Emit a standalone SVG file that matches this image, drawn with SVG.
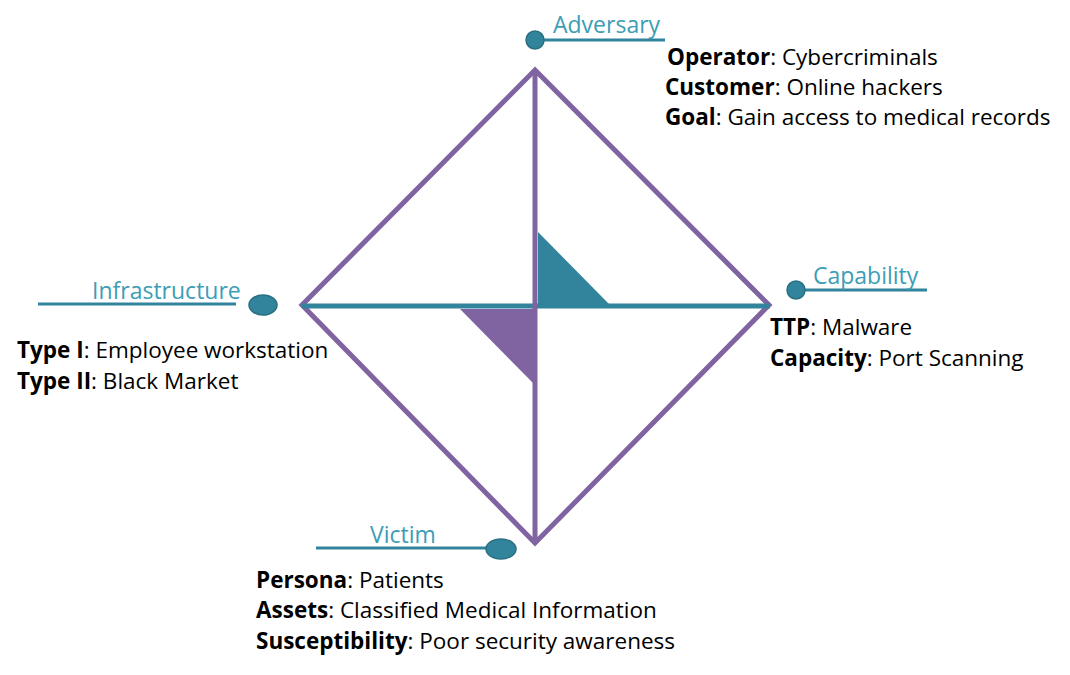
<svg xmlns="http://www.w3.org/2000/svg" width="1070" height="675" viewBox="0 0 1070 675">
  <style>
    .edge { stroke: #8064A2; stroke-width: 5; fill: none; stroke-linejoin: miter; }
    .axis { stroke: #31849B; stroke-width: 5; }
    .lead { stroke: #31849B; stroke-width: 3; }
    .dot { fill: #31849B; stroke: #2A6F82; stroke-width: 1.5; }
    .title { font-family: "Open Sans", "Liberation Sans", sans-serif; font-size: 23px; fill: #3C9DB6; }
    .info { font-family: "Open Sans", "Liberation Sans", sans-serif; font-size: 22.5px; fill: #000; }
    .info tspan.k { font-weight: bold; }
  </style>
  <rect width="1070" height="675" fill="#ffffff"/>

  <!-- diamond frame and axes -->
  <g id="diamond">
    <polygon class="edge" points="535,70 769,305 535,543 302,305"/>
    <line class="axis" x1="302" y1="306" x2="770" y2="306"/>
    <line x1="535" y1="70" x2="535" y2="543" stroke="#8064A2" stroke-width="5"/>
    <polygon points="538,232 538,304 609,304" fill="#31849B"/>
    <polygon points="460,309 533,309 533,383" fill="#8064A2"/>
  </g>

  <g id="connectors">
    <line class="lead" x1="535" y1="40" x2="665" y2="40"/>
    <line class="lead" x1="796" y1="290" x2="927" y2="290"/>
    <line class="lead" x1="38" y1="304" x2="236" y2="304"/>
    <line class="lead" x1="316" y1="548" x2="500" y2="548"/>
  </g>

  <g id="adversary">
    <circle class="dot" cx="535" cy="40" r="9"/>
    <text class="title" x="553" y="33">Adversary</text>
    <text class="info" x="667" y="65"><tspan class="k">Operator</tspan>: Cybercriminals</text>
    <text class="info" x="665" y="95"><tspan class="k">Customer</tspan>: Online hackers</text>
    <text class="info" x="665" y="125"><tspan class="k">Goal</tspan>: Gain access to medical records</text>
  </g>

  <g id="capability">
    <circle class="dot" cx="796" cy="290" r="9"/>
    <text class="title" x="813" y="284">Capability</text>
    <text class="info" x="770" y="335"><tspan class="k">TTP</tspan>: Malware</text>
    <text class="info" x="770" y="366"><tspan class="k">Capacity</tspan>: Port Scanning</text>
  </g>

  <g id="infrastructure">
    <ellipse class="dot" cx="263" cy="305" rx="14" ry="10"/>
    <text class="title" x="92" y="299">Infrastructure</text>
    <text class="info" x="17" y="358"><tspan class="k">Type I</tspan>: Employee workstation</text>
    <text class="info" x="17" y="389"><tspan class="k">Type II</tspan>: Black Market</text>
  </g>

  <g id="victim">
    <ellipse class="dot" cx="501" cy="549" rx="15" ry="10"/>
    <text class="title" x="370" y="543">Victim</text>
    <text class="info" x="256" y="588"><tspan class="k">Persona</tspan>: Patients</text>
    <text class="info" x="256" y="618"><tspan class="k">Assets</tspan>: Classified Medical Information</text>
    <text class="info" x="256" y="649"><tspan class="k">Susceptibility</tspan>: Poor security awareness</text>
  </g>
</svg>
